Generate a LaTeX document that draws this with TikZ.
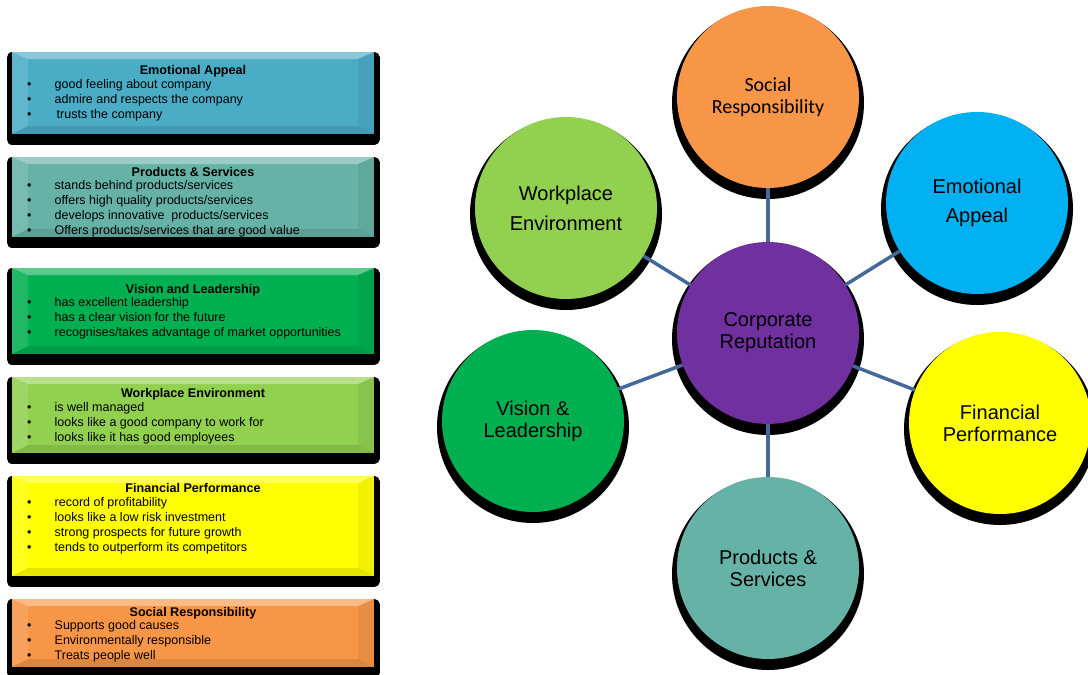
\documentclass[tikz,border=0pt]{standalone}
\usepackage{fontspec}
\setmainfont{Liberation Sans}
\newfontfamily\calibri{Carlito}
\definecolor{emoC}{HTML}{4BACC6}
\definecolor{prodC}{HTML}{66B2A6}
\definecolor{visC}{HTML}{00B050}
\definecolor{workC}{HTML}{92D050}
\definecolor{finC}{HTML}{FFFF00}
\definecolor{socC}{HTML}{F79646}
\definecolor{emoCirc}{HTML}{00B0F0}
\definecolor{corpC}{HTML}{7030A0}
\definecolor{linkC}{HTML}{44689A}
\newcommand{\blt}{\makebox[27.5pt][l]{•}}
\tikzset{bevel/.style={path picture={
           \fill[white,opacity=.35] (path picture bounding box.north west) -- (path picture bounding box.north east)
             -- ([xshift=-16pt,yshift=-7pt]path picture bounding box.north east) -- ([xshift=16pt,yshift=-7pt]path picture bounding box.north west) -- cycle;
           \fill[white,opacity=.12] (path picture bounding box.north west) -- ([xshift=16pt,yshift=-7pt]path picture bounding box.north west)
             -- ([xshift=16pt,yshift=8pt]path picture bounding box.south west) -- (path picture bounding box.south west) -- cycle;
           \fill[black,opacity=.06] (path picture bounding box.north east) -- ([xshift=-16pt,yshift=-7pt]path picture bounding box.north east)
             -- ([xshift=-16pt,yshift=8pt]path picture bounding box.south east) -- (path picture bounding box.south east) -- cycle;
           \fill[black,opacity=.1] (path picture bounding box.south west) -- ([xshift=16pt,yshift=8pt]path picture bounding box.south west)
             -- ([xshift=-16pt,yshift=8pt]path picture bounding box.south east) -- (path picture bounding box.south east) -- cycle;}},
         featbox/.style={rectangle, minimum width=362pt, inner sep=0pt, bevel,
           preaction={fill=black, draw=black, line width=11pt, line join=round, transform canvas={yshift=-5.5pt}}},
         boxtitle/.style={font=\bfseries\fontsize{12.6}{15}\selectfont, anchor=base, inner sep=0pt},
         boxlist/.style={font=\fontsize{12.5}{15}\selectfont, anchor=north west, inner sep=0pt},
         bubble/.style={circle, minimum size=182pt, inner sep=0pt, align=center, font=\fontsize{20}{22}\selectfont,
           preaction={fill=black, draw=black, line width=10pt, transform canvas={yshift=-6pt}}},
         link/.style={draw=linkC, line width=3.5pt}}
\begin{document}
\begin{tikzpicture}[x=1pt,y=-1pt]
\useasboundingbox (0,0) rectangle (1088,675);

% left column
\node[featbox, fill=emoC, minimum height=82pt] (boxEmo) at (193,93) {};
\node[boxtitle] (tEmo) at (193,74.5) {Emotional Appeal};
\node[boxlist] (lEmo) at (27,78) {\begin{tabular}{@{}l@{}}
  \blt good feeling about company\\ \blt admire and respects the company\\ \blt\hspace{2pt}trusts the company\end{tabular}};

\node[featbox, fill=prodC, minimum height=80pt] (boxProd) at (193,197) {};
\node[boxtitle] (tProd) at (193,176.5) {Products \& Services};
\node[boxlist] (lProd) at (27,179) {\begin{tabular}{@{}l@{}}
  \blt stands behind products/services\\ \blt offers high quality products/services\\
  \blt develops innovative\ \ products/services\\ \blt Offers products/services that are good value\end{tabular}};

\node[featbox, fill=visC, minimum height=86pt] (boxVis) at (193,311) {};
\node[boxtitle] (tVis) at (193,293.5) {Vision and Leadership};
\node[boxlist] (lVis) at (27,296) {\begin{tabular}{@{}l@{}}
  \blt has excellent leadership\\ \blt has a clear vision for the future\\
  \blt recognises/takes advantage of market opportunities\end{tabular}};

\node[featbox, fill=workC, minimum height=76pt] (boxWork) at (193,415) {};
\node[boxtitle] (tWork) at (193,397.5) {Workplace Environment};
\node[boxlist] (lWork) at (27,401) {\begin{tabular}{@{}l@{}}
  \blt is well managed\\ \blt looks like a good company to work for\\ \blt looks like it has good employees\end{tabular}};

\node[featbox, fill=finC, minimum height=100pt] (boxFin) at (193,526) {};
\node[boxtitle] (tFin) at (193,492.5) {Financial Performance};
\node[boxlist] (lFin) at (27,496) {\begin{tabular}{@{}l@{}}
  \blt record of profitability\\ \blt looks like a low risk investment\\
  \blt strong prospects for future growth\\ \blt tends to outperform its competitors\end{tabular}};

\node[featbox, fill=socC, minimum height=68pt] (boxSoc) at (193,633) {};
\node[boxtitle] (tSoc) at (193,616.5) {Social Responsibility};
\node[boxlist] (lSoc) at (27,619) {\begin{tabular}{@{}l@{}}
  \blt Supports good causes\\ \blt Environmentally responsible\\ \blt Treats people well\end{tabular}};

% right: the reputation wheel
\node[bubble, fill=corpC] (corp) at (768,333) {Corporate\\Reputation};
\node[bubble, fill=socC, font=\calibri\fontsize{20}{21.5}\selectfont] (soc) at (768,97) {Social\\Responsibility};
\node[bubble, fill=emoCirc, font=\fontsize{20}{29.5}\selectfont] (emo) at (977,203) {Emotional\\Appeal};
\node[bubble, fill=workC, font=\fontsize{20}{30}\selectfont] (work) at (566,208) {Workplace\\Environment};
\node[bubble, fill=visC] (vis) at (533,421) {Vision \&\\Leadership};
\node[bubble, fill=finC] (fin) at (1000,423) {Financial\\Performance};
\node[bubble, fill=prodC] (prod) at (768,568) {Products \&\\Services};

\foreach \n in {soc,emo,work,vis,fin,prod}
  \draw[link] (corp) -- (\n);
\end{tikzpicture}
\end{document}
